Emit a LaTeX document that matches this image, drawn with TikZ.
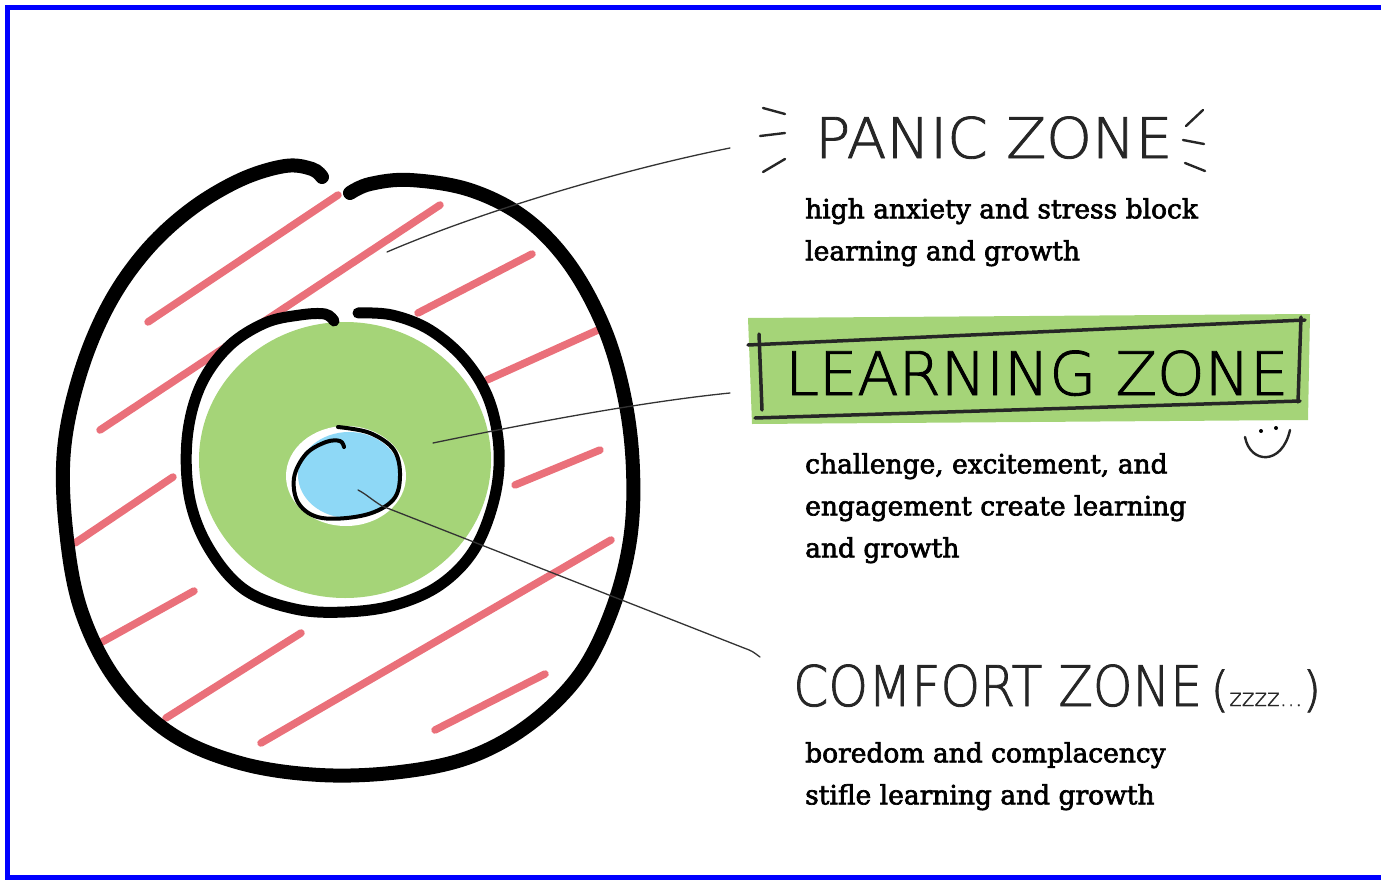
\documentclass[tikz,border=0pt]{standalone}
\usepackage{fontspec}
\setmainfont{DejaVu Serif}[FakeBold=2.5]
\newfontfamily\handfont{DejaVuSans-ExtraLight}[Extension=.ttf,FakeBold=1.5]
\usetikzlibrary{positioning}
\definecolor{zonegreen}{RGB}{165,212,120}
\definecolor{zoneblue}{RGB}{142,216,246}
\definecolor{zonered}{RGB}{234,112,122}
\tikzset{
  hatch/.style={zonered,line width=7.5pt,line cap=round},
  ring/.style={black,line width=14pt,line cap=round},
  leader/.style={black!80,line width=1.3pt,line cap=round},
  scribble/.style={black!85,line width=2.4pt,line cap=round},
  body/.style={font=\fontsize{26.5}{42}\selectfont,align=left,anchor=north west,inner sep=0pt},
  hand/.style={font=\handfont\fontsize{56}{56}\selectfont,anchor=base west,inner sep=0pt,text=black!85},
}
\begin{document}
\begin{tikzpicture}[x=1pt,y=-1pt]
\useasboundingbox (0,0) rectangle (1381,880);
\draw[blue,line width=5pt] (1390,7.5) -- (7.5,7.5) -- (7.5,877.5) -- (1390,877.5);

\draw[hatch] (148,322) -- (338,195);
\draw[hatch] (100,430) -- (440,205);
\draw[hatch] (418,313) -- (532,254);
\draw[hatch] (487,380) -- (598,330);
\draw[hatch] (515,485) -- (600,450);
\draw[hatch] (75,543) -- (173,477);
\draw[hatch] (102,642) -- (194,591);
\draw[hatch] (166,718) -- (301,633);
\draw[hatch] (261,743) -- (611,540);
\draw[hatch] (435,730) -- (545,674);

\fill[zonegreen] (345,460) ellipse[x radius=146,y radius=138];
\fill[white] (346,476) ellipse[x radius=60,y radius=50];
\fill[zoneblue] (349,475) ellipse[x radius=51,y radius=43];

\draw[ring] plot[smooth,tension=0.6] coordinates {(322,177) (312,169) (285,166) (240,180)
  (190,210) (145,252) (108,306) (80,374) (64,450) (66,530) (81,610) (116,680) (170,733)
  (240,763) (320,775) (400,772) (470,757) (530,724) (580,674) (612,610) (630,540) (633,470)
  (625,400) (605,330) (570,265) (525,218) (470,190) (410,180) (370,184) (350,193)};
\draw[ring,line width=11pt] plot[smooth,tension=0.6] coordinates {(334,321) (325,314) (300,315)
  (265,323) (228,347) (200,387) (187,440) (190,500) (210,550) (245,590) (295,609) (345,612)
  (395,605) (440,585) (474,550) (494,500) (499,450) (489,400) (465,360) (430,330) (392,315)
  (358,313)};
\draw[black,line width=4pt,line cap=round] plot[smooth,tension=0.6] coordinates {(338,427)
  (370,433) (394,450) (400,476) (393,500) (365,515) (322,518) (299,504) (294,478) (306,454)
  (326,442) (340,441) (344,447)};

\coordinate (panicpt) at (387,252);
\coordinate (panicend) at (730,148);
\coordinate (learnpt) at (433,443);
\coordinate (learnend) at (730,393);
\coordinate (comfortpt) at (358,490);
\coordinate (comfortend) at (760,657);
\draw[leader] (panicpt) .. controls (480,212) and (620,170) .. (panicend);
\draw[leader] (learnpt) .. controls (520,425) and (640,402) .. (learnend);
\draw[leader] (comfortpt) .. controls (366,494) and (372,500) .. (382,506) -- (744,648)
  .. controls (752,651) .. (comfortend);

\node[hand] (panic) at (815,158) {\scalebox{1.04}[1]{PANIC ZONE}};
\draw[scribble] (763,108) -- (785,114);
\draw[scribble] (760,136) -- (785,133);
\draw[scribble] (763,172) -- (785,159);
\draw[scribble] (1186,126) -- (1203,110);
\draw[scribble] (1183,140) -- (1204,144);
\draw[scribble] (1185,163) -- (1205,171);
\node[body] (panictxt) at (805,198) {high anxiety and stress block\\learning and growth};

\fill[zonegreen] (748,318) -- (1310,314) -- (1308,420) -- (752,424) -- cycle;
\draw[scribble,line width=3.5pt] (748,345) -- (1305,320);
\draw[scribble,line width=3.5pt] (1301,317) -- (1298,402);
\draw[scribble,line width=3.5pt] (755,418) -- (1300,401);
\draw[scribble,line width=3.5pt] (759,334) -- (762,410);
\node[hand,font=\handfont\fontsize{60}{60}\selectfont,text=black] (learn) at (785,395) {\scalebox{1.01}[1]{LEARNING ZONE}};
\fill (1261,431) circle[radius=2];
\fill (1276,428) circle[radius=2];
\draw[scribble] (1245,437) .. controls (1250,464) and (1282,466) .. (1290,430);
\node[body] (learntxt) at (805,453) {challenge, excitement, and\\engagement create learning\\and growth};

\node[hand] (comfort) at (793,706) {\scalebox{0.9}[1]{COMFORT ZONE}};
\node[hand,font=\handfont\fontsize{24}{24}\selectfont,right=8pt of comfort.base east,anchor=base west] (zzz) {{\fontsize{48}{48}\selectfont(}zzzz...{\fontsize{48}{48}\selectfont)}};
\node[body] (comforttxt) at (805,742) {boredom and complacency\\stifle learning and growth};
\end{tikzpicture}
\end{document}
